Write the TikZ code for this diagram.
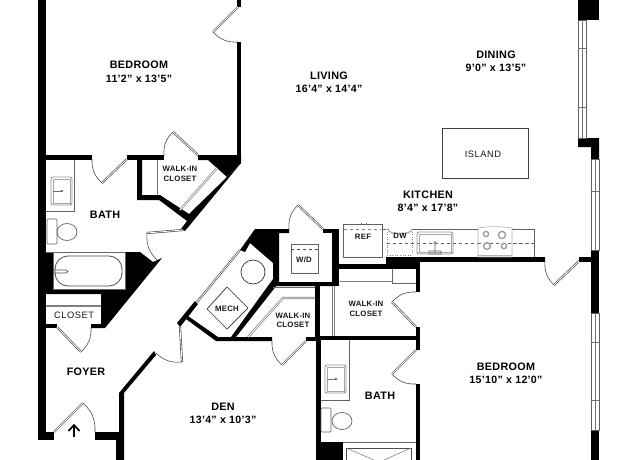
\documentclass[tikz,border=0pt]{standalone}
\usepackage{fontspec}
\setmainfont{Liberation Sans}
\newfontfamily\planbold[LetterSpace=3]{Liberation Sans Bold}
\newfontfamily\planreg[LetterSpace=6]{Liberation Sans}
\tikzset{
  wall/.style={fill=black,draw=none},
  panel/.style={draw=black!72,double=white,line width=.65pt,double distance=.8pt},
  swing/.style={draw=black!75,line width=.55pt},
  fixture/.style={draw=black!62,line width=.7pt},
  softfix/.style={draw=black!42,line width=.9pt},
  winframe/.style={draw=black!62,line width=.7pt,fill=white},
  roomname/.style={font=\planbold\fontsize{10.8}{12}\selectfont,inner sep=0pt},
  roomsize/.style={font=\planbold\fontsize{10.6}{12}\selectfont,inner sep=0pt},
  minilabel/.style={font=\planbold\fontsize{7.8}{9}\selectfont,inner sep=0pt,text=black!90},
  tinylabel/.style={font=\planreg\fontsize{9.3}{10}\selectfont,inner sep=0pt,text=black!90},
}
\newcommand{\plansink}[4]{%
  \draw[softfix,rounded corners=2pt] (#1,#2) rectangle (#3,#4);
  \draw[draw=black!35,line width=.5pt] ({#1+2},{#2+2}) rectangle ({#3-2},{#4-2});
}
\begin{document}
\begin{tikzpicture}[x=1pt,y=-1pt]
\useasboundingbox (0,0) rectangle (640,460);
\fill[white] (0,0) rectangle (640,460);

% exterior and partition walls
\fill[wall] (38,0) rectangle (46,440);
\fill[wall] (38,432) rectangle (54,440);
\fill[wall] (46,155) rectangle (92,160);
\fill[wall] (127,155) rectangle (164,160);
\fill[wall] (237,0) rectangle (241,7);
\fill[wall] (237,42) rectangle (241,163);
\fill[wall] (198,155)--(241,155)--(241,163)--(227,177)--(208,160)--(198,160)--cycle;
\fill[wall] (137,160)--(142,160)--(142,195)--(160,195)--(189,214)--(227,177)--(241,163)--(185,231)--(181,229)--(187,221)--(159,200)--(137,200)--cycle;

% black mass by the tub and closet
\fill[wall] (46,252)--(140,252)--(153,262)--(162,258)--(105,328)--(91,328)--(91,324)--(101,324)--(101,294)--(46,294)--cycle;
\fill[wall] (46,324) rectangle (57,328);
\fill[white] (53,252) rectangle (125,289);
\draw[draw=black!60,line width=.6pt] (53,252) rectangle (125,289);

% foyer and den walls
\fill[wall] (95,432) rectangle (119,440);
\fill[wall] (119,393)--(154,351)--(156,355)--(124,393)--(124,460)--(116,460)--(116,440)--(119,440)--cycle;
\fill[wall] (177,323)--(195,301)--(198,304)--(180,327)--cycle;
\fill[wall] (188,316)--(218,337)--(272,337)--(272,341)--(216,341)--(186,319)--cycle;
\fill[wall] (306,337) rectangle (316,341);
\fill[wall] (315,286) rectangle (320,337);
\fill[wall] (316,337) rectangle (321,460);

% mech room
\fill[wall] (240,250)--(255,229)--(289,229)--(289,233)--(279,233)--(279,282)--(332,282)--(332,286)--(273,286)--(273,263)--(250,243)--(245,252)--cycle;
\fill[wall] (323,229) rectangle (339,233);
\fill[wall] (332,229) rectangle (339,286);
\fill[wall] (320,282) rectangle (339,286);
\fill[wall] (273,279)--(277,285)--(236,337)--(231,337)--cycle;

% kitchen / bedroom walls
\fill[wall] (339,264) rectangle (416,269);
\fill[wall] (386,257) rectangle (420,264);
\fill[wall] (386,257) rectangle (545,262);
\fill[wall] (579,257) rectangle (599,262);
\fill[wall] (416,257) rectangle (420,292);
\fill[wall] (416,327) rectangle (420,350);
\fill[wall] (416,384) rectangle (420,460);
\fill[wall] (320,336) rectangle (420,340);

% right exterior
\fill[wall] (578,0) rectangle (599,20);
\fill[wall] (578,138)--(599,138)--(599,159)--(591,159)--(591,147)--(578,147)--cycle;
\fill[wall] (591,250) rectangle (599,313);
\fill[wall] (591,430) rectangle (599,460);
\draw[winframe] (578,20) rectangle (586,138);
\draw[black!55,line width=.5pt] (582,20)--(582,138) (578,48)--(586,48) (578,107)--(586,107);
\draw[winframe] (591,159) rectangle (599,250);
\draw[black!55,line width=.5pt] (595,159)--(595,250) (591,191)--(599,191);
\draw[winframe] (591,313) rectangle (599,430);
\draw[black!55,line width=.5pt] (595,313)--(595,430) (591,342)--(599,342) (591,400)--(599,400);

% doors
\draw[panel] (238,7)--(213,32);
\draw[swing] (213,32) to[bend right=25] (238,42);
\draw[panel] (173,132)--(198,155);
\draw[swing] (173,132) to[bend right=25] (164,155);
\draw[panel] (127,159)--(102,183);
\draw[swing] (92,159) to[bend right=25] (102,183);
\draw[panel] (147,233)--(183,230);
\draw[swing] (147,233) to[bend right=25] (157,260);
\draw[panel] (57,327)--(81,352);
\draw[swing] (81,352) to[bend right=25] (91,327);
\draw[panel] (54,432)--(83,403);
\draw[swing] (83,403) to[bend left=25] (95,432);
\draw[panel] (180,327)--(182,362);
\draw[swing] (182,362) to[bend left=25] (156,353);
\draw[panel] (306,341)--(282,365);
\draw[swing] (282,365) to[bend left=25] (272,341);
\draw[panel] (298,205)--(323,229);
\draw[swing] (298,205) to[bend right=25] (289,229);
\draw[panel] (579,261)--(554,285);
\draw[swing] (554,285) to[bend left=25] (545,261);
\draw[panel] (416,327)--(392,302);
\draw[swing] (392,302) to[bend left=25] (416,292);
\draw[panel] (416,350)--(392,374);
\draw[swing] (392,374) to[bend right=25] (416,384);
\draw[panel] (240,250)--(197,302);

% closet shelves
\draw[draw=black!55,line width=.6pt] (157,160)--(157,195);
\draw[draw=black!50,double=white,line width=.7pt,double distance=.8pt] (180,210)--(217,168);
\draw[draw=black!50,line width=2.2pt] (46,306)--(101,306);
\draw[draw=black!50,double=white,line width=.7pt,double distance=.8pt] (248,337)--(283,298)--(315,298);
\draw[draw=black!60,line width=.6pt] (273,287)--(315,287);
\draw[draw=black!50,double=white,line width=.7pt,double distance=.8pt] (333.5,286)--(333.5,336);
\draw[draw=black!50,line width=1.8pt] (340,281.5)--(392,281.5);
\draw[draw=black!60,line width=.6pt] (392,269)--(392,283)--(416,283);

% bath 1 fixtures
\draw[fixture] (46,211)--(74,211)--(74,160);
\plansink{51}{177}{72}{205}
\draw[black!55,line width=.5pt] (53,191)--(62,191);
\draw[black!60,line width=.5pt] (62,191) circle (1pt);
\draw[fixture,rounded corners=1pt] (47,219) rectangle (57,244);
\draw[fixture] (67,232) ellipse (10 and 8.5);
\draw[fixture] (46,252)--(53,252);
\draw[draw=black!70,line width=.8pt,rounded corners=13pt] (55,256) rectangle (122,286);
\draw[black!70,line width=.6pt] (53,270)--(66,270)--(68,271.5)--(66,273)--(53,273);

% mech fixtures
\draw[draw=black!80,line width=.7pt] (253,272) circle (12);
\draw[draw=black!80,line width=.7pt] (227,287)--(248,308)--(227,329)--(207,309)--cycle;

% laundry
\draw[fixture] (291,244) rectangle (318,273);
\draw[draw=black!70,line width=.7pt,dashed] (291,249)--(318,249);

% kitchen
\draw[fixture] (382,229)--(534,229)--(534,257);
\draw[fixture,fill=white] (343,224) rectangle (382,257);
\draw[draw=black!50,line width=.6pt,dashed] (344,229)--(381,229);
\draw[draw=black!60,line width=.8pt] (361,224)--(361,223) (366,224)--(366,223);
\fill[white] (386,229) rectangle (413,256);
\draw[draw=black!50,line width=.6pt,dotted] (387,255)--(412,255) (387,229)--(387,255) (412,229)--(412,255);
\draw[softfix] (388,229) arc (180:360:12 and -5) ;
\draw[draw=black!60,line width=.6pt,dashed] (387,243)--(534,243);
\plansink{417}{232}{453}{254}
\draw[black!60,line width=.6pt] (435,243) circle (1.5pt) (435,245)--(435,252) (429,251) rectangle (441,254);
\fill[white] (478,225) rectangle (512,257);
\draw[draw=black!30,line width=.6pt] (478,257)--(478,228) to[bend left=8] (512,228)--(512,257)--cycle;
\draw[draw=black!30,line width=.6pt] (478,255) -- (512,255);
\draw[draw=black!60,line width=.6pt,dashed] (478,243)--(534,243);
\draw[draw=black!40,line width=1.3pt] (486,234) circle (2.6) (502,235) circle (3.6) (487,246) circle (3.4) (504,246) circle (2.7);
\draw[draw=black!75,line width=.7pt] (442,128) rectangle (528,178);

% bath 2 fixtures
\draw[fixture] (321,400)--(349,400)--(349,340);
\plansink{325}{365}{346}{393}
\draw[black!55,line width=.5pt] (327,379)--(336,379);
\draw[black!60,line width=.5pt] (336,379) circle (1pt);
\draw[fixture,rounded corners=1pt] (321,408) rectangle (331,432);
\draw[fixture] (342,421) ellipse (10 and 8.5);
\fill[wall] (316,442) rectangle (343,460);
\draw[fixture] (343,442)--(416,442);
\draw[draw=black!70,line width=.6pt] (346,460)--(346,448)--(411,448)--(411,460);
\draw[draw=black!55,line width=.5pt] (346,448)--(374,460) (411,448)--(384,460);

% entry arrow
\draw[line width=1.7pt] (74,437)--(74,426);
\draw[line width=1.7pt] (68.5,431)--(74,425)--(79.5,431);

% labels
\node[roomname] (bed1) at (139,65) {BEDROOM};
\node[roomsize] (bed1s) at (139,79) {11’2” x 13’5”};
\node[roomname] (liv) at (329,76) {LIVING};
\node[roomsize] (livs) at (329,89) {16’4” x 14’4”};
\node[roomname] (din) at (496,55) {DINING};
\node[roomsize] (dins) at (496,68) {9’0” x 13’5”};
\node[tinylabel] (isl) at (483,154) {ISLAND};
\node[roomname] (kit) at (428,195) {KITCHEN};
\node[roomsize] (kits) at (428,208) {8’4” x 17’8”};
\node[roomname] (bath1) at (105,215) {BATH};
\node[minilabel] (wic1a) at (180,169) {WALK-IN};
\node[minilabel] (wic1b) at (180,179) {CLOSET};
\node[minilabel] (ref) at (363,237) {REF};
\node[minilabel] (dw) at (400,236) {DW};
\node[minilabel] (wd) at (304,260) {W/D};
\node[minilabel] (mech) at (227,309) {MECH};
\node[minilabel] (wic2a) at (293,316) {WALK-IN};
\node[minilabel] (wic2b) at (293,325) {CLOSET};
\node[minilabel] (wic3a) at (366,304) {WALK-IN};
\node[minilabel] (wic3b) at (366,314) {CLOSET};
\node[tinylabel] (clo) at (74,315) {CLOSET};
\node[roomname] (foy) at (86,372) {FOYER};
\node[roomname] (den) at (223,407) {DEN};
\node[roomsize] (dens) at (223,420) {13’4” x 10’3”};
\node[roomname] (bed2) at (506,367) {BEDROOM};
\node[roomsize] (bed2s) at (506,380) {15’10” x 12’0”};
\node[roomname] (bath2) at (380,396) {BATH};
\end{tikzpicture}
\end{document}
